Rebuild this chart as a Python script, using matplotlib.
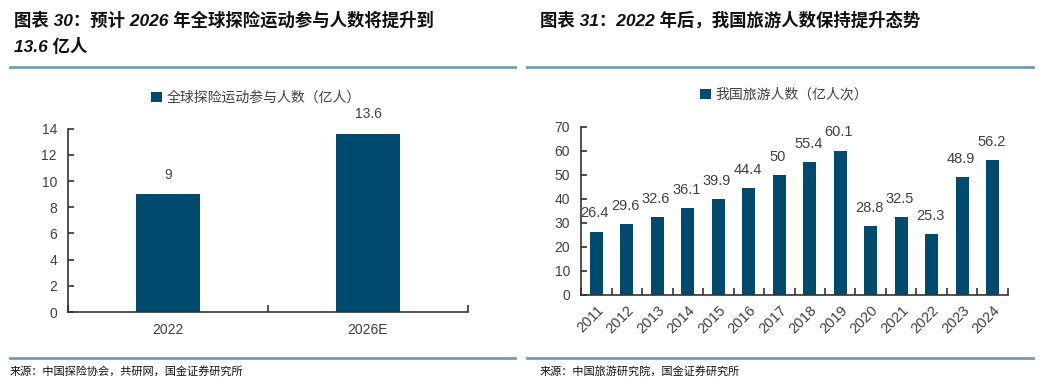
import matplotlib
matplotlib.use("Agg")
import matplotlib.pyplot as plt
from matplotlib.lines import Line2D

plt.rcParams['font.family'] = ['Liberation Sans', 'Noto Sans CJK SC', 'DejaVu Sans']

# left chart data
adv_cats = ['2022', '2026E']
adv_vals = [9, 13.6]
adv_labels = ['9', '13.6']

# right chart data
tour_years = ['2011', '2012', '2013', '2014', '2015', '2016', '2017',
              '2018', '2019', '2020', '2021', '2022', '2023', '2024']
tour_vals = [26.4, 29.6, 32.6, 36.1, 39.9, 44.4, 50, 55.4, 60.1,
             28.8, 32.5, 25.3, 48.9, 56.2]
tour_labels = ['26.4', '29.6', '32.6', '36.1', '39.9', '44.4', '50',
               '55.4', '60.1', '28.8', '32.5', '25.3', '48.9', '56.2']

BAR = '#004a6e'
TXT = '#404040'
SEP = '#6f9db2'
W, H = 1043, 385

fig = plt.figure(figsize=(W / 100, H / 100), dpi=100)


def fx(px):
    return px / W


def fy(py):
    return 1 - py / H


# titles
tkw = dict(fontsize=12.5, fontweight='bold', style='italic', color='#111111', va='center')
fig.text(fx(14), fy(20), '图表 30：预计 2026 年全球探险运动参与人数将提升到', **tkw)
fig.text(fx(14), fy(47), '13.6 亿人', **tkw)
fig.text(fx(540), fy(20), '图表 31：2022 年后，我国旅游人数保持提升态势', **tkw)

# separators
for x0, x1 in [(10, 515), (527, 1033)]:
    fig.add_artist(Line2D([fx(x0), fx(x1)], [fy(67), fy(67)], color=SEP, lw=2))
    fig.add_artist(Line2D([fx(x0), fx(x1)], [fy(358), fy(358)], color=SEP, lw=2))

# sources
skw = dict(fontsize=8, color='#111111', va='center')
fig.text(fx(10), fy(371), '来源：中国探险协会，共研网，国金证券研究所', **skw)
fig.text(fx(540), fy(371), '来源：中国旅游研究院，国金证券研究所', **skw)


def style_axis(ax, n):
    for s in ['top', 'right']:
        ax.spines[s].set_visible(False)
    for s in ['left', 'bottom']:
        ax.spines[s].set_color('#333333')
        ax.spines[s].set_linewidth(1.2)
    ax.set_xlim(-0.5, n - 0.5)
    ax.set_xticks([i - 0.5 for i in range(n + 1)])
    ax.set_xticklabels([])
    ax.tick_params(axis='x', which='major', direction='in', length=5, color='#333333', width=1.2)
    ax.tick_params(axis='y', direction='in', length=4, color='#333333', width=1.2,
                   labelsize=10, labelcolor=TXT, pad=8)


# left chart
ax1 = fig.add_axes([fx(68), fy(312), fx(400), fy(128.7) - fy(312)])
x1 = range(len(adv_cats))
ax1.bar(x1, adv_vals, width=0.32, color=BAR, label='全球探险运动参与人数（亿人）')
ax1.set_ylim(0, 14)
ax1.set_yticks(range(0, 15, 2))
style_axis(ax1, len(adv_cats))
ax1.set_xticks(list(x1), minor=True)
ax1.set_xticklabels(adv_cats, minor=True)
ax1.tick_params(axis='x', which='minor', length=0, labelsize=10, labelcolor=TXT, pad=8)
for i, v in enumerate(adv_vals):
    ax1.annotate(adv_labels[i], (i, v), xytext=(0, 14), textcoords='offset points',
                 ha='center', va='center', fontsize=10, color=TXT)
fig.legend(*ax1.get_legend_handles_labels(), loc='center', bbox_to_anchor=(fx(256), fy(98)),
           frameon=False, fontsize=10, handlelength=0.8, handleheight=0.8, handletextpad=0.3,
           labelcolor=TXT)

# right chart
ax2 = fig.add_axes([fx(581), fy(295), fx(427), fy(126.7) - fy(295)])
x2 = range(len(tour_years))
ax2.bar(x2, tour_vals, width=0.42, color=BAR, label='我国旅游人数（亿人次）')
ax2.set_ylim(0, 70)
ax2.set_yticks(range(0, 71, 10))
style_axis(ax2, len(tour_years))
ax2.set_xticks(list(x2), minor=True)
ax2.set_xticklabels(tour_years, minor=True, rotation=45, ha='right', rotation_mode='anchor')
ax2.tick_params(axis='x', which='minor', length=0, labelsize=10.5, labelcolor=TXT, pad=6)
for i, v in enumerate(tour_vals):
    ax2.annotate(tour_labels[i], (i, v), xytext=(-1, 13), textcoords='offset points',
                 ha='center', va='center', fontsize=10.5, color=TXT)
fig.legend(*ax2.get_legend_handles_labels(), loc='center', bbox_to_anchor=(fx(784), fy(95)),
           frameon=False, fontsize=10, handlelength=0.8, handleheight=0.8, handletextpad=0.3,
           labelcolor=TXT)

fig.savefig('out.png', dpi=100, facecolor='white')
